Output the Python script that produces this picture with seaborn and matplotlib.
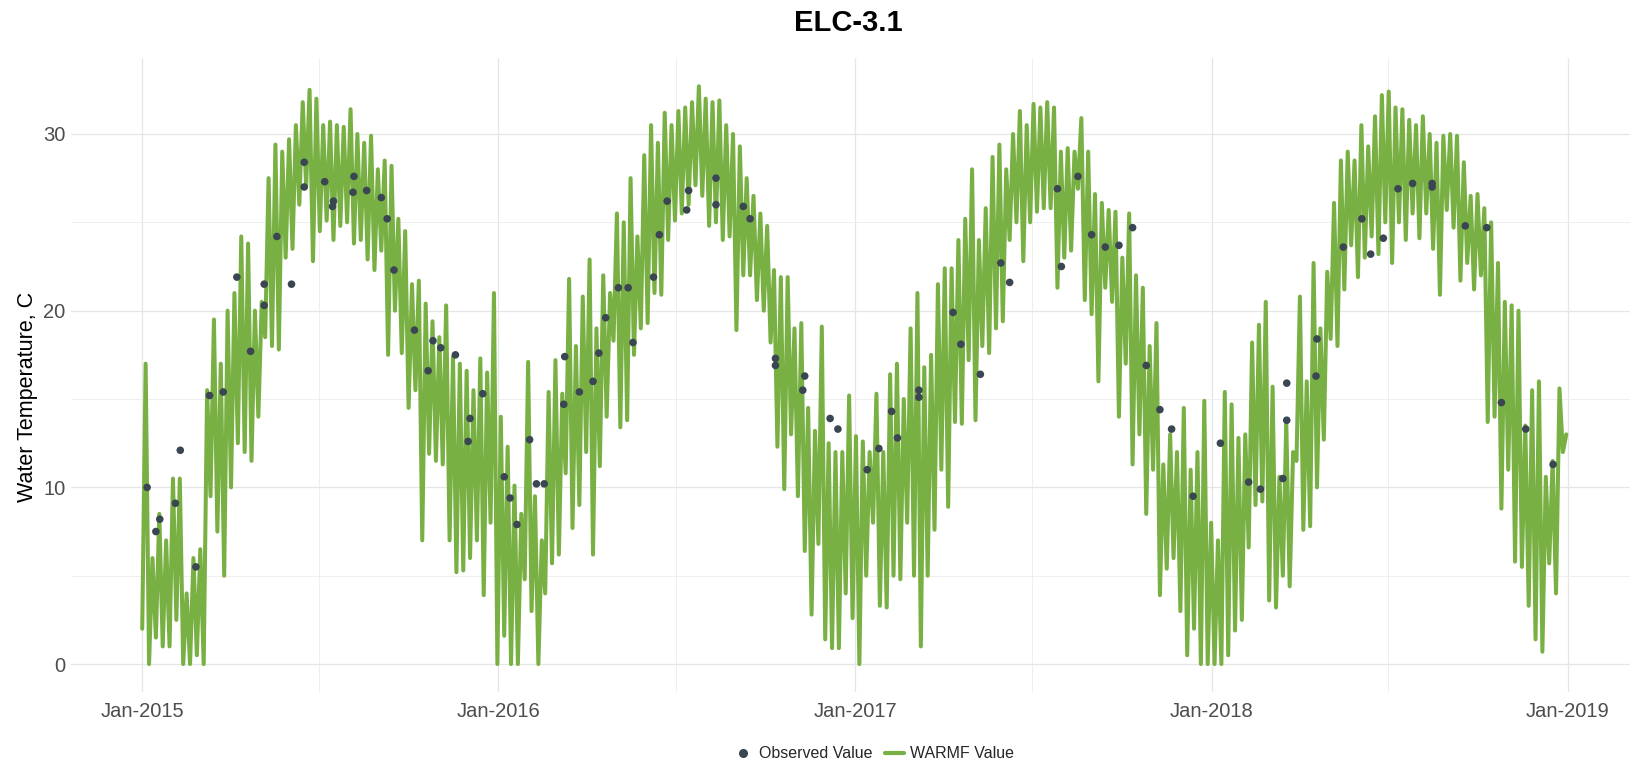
import matplotlib
matplotlib.use("Agg")
import matplotlib.pyplot as plt
import matplotlib.dates as mdates
from matplotlib.lines import Line2D
import pandas as pd
import seaborn as sns

# weekly envelope of the WARMF daily series (deg C)
warmf_low = [
    2, 0, 1.5, 1, 1, 2.5, 0, 0, 0.5, 0,
    9.5, 7.5, 5, 10, 12.5, 12, 11.5, 14, 18.5, 18,
    17.8, 23, 23.5, 26, 27, 22.8, 24.5, 25.1, 24, 24.8,
    25, 23.8, 24, 22.9, 22.3, 23.4, 17.5, 20, 17.6, 14.5,
    15.5, 7, 11.9, 11.5, 11.3, 7, 5.2, 5.3, 6, 7,
    3.9, 8, 0,
    1.6, 0, 0, 4.8, 3, 0, 4, 5.7, 6.2, 10.8,
    7.7, 9, 12, 6.2, 11.2, 14, 18.3, 13.4, 13.8, 17.5,
    19, 19.3, 21, 20.9, 24, 25.1, 25.5, 26, 27.1, 26.5,
    24.8, 25, 24, 24.2, 18.9, 22, 22, 20.6, 20, 18.2,
    12.3, 9.9, 13, 9.5, 6.4, 2.8, 6.8, 1.4, 0.9, 0.9,
    4, 2.6,
    0, 5, 8, 3.3, 3.2, 5, 4.8, 8, 5, 1,
    5, 7.6, 11, 8.9, 13.7, 13.6, 17.2, 13.8, 18, 17.6,
    19, 19.4, 24, 25, 22.8, 25, 25.6, 25.8, 25.8, 21.3,
    23, 23.4, 26.9, 20.6, 19.8, 16, 21.3, 20.5, 14, 17,
    11.3, 13, 8.5, 11, 3.9, 5.4, 6, 3, 0.5, 2,
    0, 0,
    0, 0, 0.5, 1.9, 2.5, 6.6, 9, 9.2, 3.6, 3.2,
    5, 4.4, 11.5, 7.6, 7.8, 10, 12.7, 18.4, 18, 21.2,
    23.7, 21.9, 23, 24.2, 23.2, 25, 22.7, 25, 24, 25.5,
    24.1, 25.5, 23.5, 20.9, 25.7, 24.7, 21.7, 22.7, 21.2, 22,
    13.7, 14, 8.8, 11, 5.8, 5.5, 3.3, 1.4, 0.7, 5.7,
    4, 12,
]
warmf_high = [
    17, 6, 8.5, 7, 10.5, 10.5, 4, 6, 6.5, 15.5,
    19.5, 17, 20, 21, 24.2, 23.8, 20, 20.5, 27.5, 29.4,
    29, 29.7, 30.5, 31.8, 32.5, 32, 30.5, 30.7, 30.5, 30.4,
    31.4, 30, 29.5, 29.9, 28, 28.5, 28.2, 25.2, 24.5, 21.5,
    21.7, 20.4, 19.4, 18.5, 20.3, 17.4, 17, 16.6, 15.5, 17.3,
    16.5, 21, 14,
    12.3, 10.1, 8.5, 17.1, 9.5, 7, 15.4, 17.2, 15.3, 21.8,
    18, 20.8, 22.9, 19, 22, 21, 25.5, 25, 27.5, 24.2,
    28.8, 30.5, 29.5, 31.2, 30.5, 31.3, 31.5, 31.8, 32.7, 32,
    31.8, 31.9, 30.5, 30, 29.3, 27.5, 26.5, 25.5, 24.8, 22.3,
    21.9, 21.9, 19, 19.3, 14.5, 13.2, 19.1, 12.5, 12, 12,
    15.2, 12.9,
    12.6, 12, 15.3, 12, 16.4, 17, 15, 19, 21, 16.8,
    17.5, 21.5, 22.4, 22.4, 24, 25.2, 28, 24, 25.8, 28.7,
    29.4, 28, 30, 31.3, 30.5, 31.7, 31.5, 31.8, 31.5, 29,
    29.2, 29, 30.9, 29, 26.6, 26.1, 25.7, 25.6, 23, 25.5,
    22, 21.3, 18, 19.3, 11.3, 13, 12, 14.5, 11, 12,
    14.9, 8,
    7, 15.4, 14.7, 12.8, 13, 18.2, 19.2, 20.5, 15.7, 10.6,
    13.7, 12, 20.8, 16, 22.7, 19, 22.2, 26.1, 28.5, 29,
    28.5, 30.5, 29.3, 31, 32.2, 32.4, 31.5, 31.4, 30.8, 30.5,
    31, 30, 29.5, 29.9, 30, 29.9, 28.4, 26.5, 26.6, 25.8,
    25, 22.7, 20.5, 20.3, 20, 13.5, 15.5, 16, 10.6, 11.5,
    15.6, 13,
]

obs_dates = [
    "2015-01-06", "2015-01-15", "2015-01-19", "2015-02-04", "2015-02-09",
    "2015-02-25", "2015-03-11", "2015-03-25", "2015-04-08", "2015-04-22",
    "2015-05-06", "2015-05-06", "2015-05-19", "2015-06-03", "2015-06-16",
    "2015-06-16", "2015-07-07", "2015-07-15", "2015-07-16", "2015-08-05",
    "2015-08-06", "2015-08-19", "2015-09-03", "2015-09-09", "2015-09-16",
    "2015-10-07", "2015-10-21", "2015-10-26", "2015-11-03", "2015-11-18",
    "2015-12-01", "2015-12-03", "2015-12-16",
    "2016-01-07", "2016-01-13", "2016-01-20", "2016-02-02", "2016-02-09",
    "2016-02-17", "2016-03-08", "2016-03-09", "2016-03-24", "2016-04-07",
    "2016-04-13", "2016-04-20", "2016-05-03", "2016-05-13", "2016-05-18",
    "2016-06-08", "2016-06-14", "2016-06-22", "2016-07-12", "2016-07-14",
    "2016-08-11", "2016-08-11", "2016-09-08", "2016-09-15", "2016-10-11",
    "2016-10-11", "2016-11-08", "2016-11-10", "2016-12-06", "2016-12-14",
    "2017-01-13", "2017-01-25", "2017-02-07", "2017-02-13", "2017-03-07",
    "2017-03-07", "2017-04-11", "2017-04-19", "2017-05-09", "2017-05-30",
    "2017-06-08", "2017-07-27", "2017-07-31", "2017-08-17", "2017-08-31",
    "2017-09-14", "2017-09-28", "2017-10-12", "2017-10-26", "2017-11-09",
    "2017-11-21", "2017-12-13",
    "2018-01-10", "2018-02-08", "2018-02-20", "2018-03-15", "2018-03-19",
    "2018-03-19", "2018-04-18", "2018-04-19", "2018-05-16", "2018-06-04",
    "2018-06-13", "2018-06-26", "2018-07-11", "2018-07-26", "2018-08-15",
    "2018-08-15", "2018-09-18", "2018-10-10", "2018-10-25", "2018-11-19",
    "2018-12-17",
]
obs_values = [
    10.0, 7.5, 8.2, 9.1, 12.1, 5.5, 15.2, 15.4, 21.9, 17.7,
    20.3, 21.5, 24.2, 21.5, 28.4, 27.0, 27.3, 25.9, 26.2, 26.7,
    27.6, 26.8, 26.4, 25.2, 22.3, 18.9, 16.6, 18.3, 17.9, 17.5,
    12.6, 13.9, 15.3,
    10.6, 9.4, 7.9, 12.7, 10.2, 10.2, 14.7, 17.4, 15.4, 16.0,
    17.6, 19.6, 21.3, 21.3, 18.2, 21.9, 24.3, 26.2, 25.7, 26.8,
    27.5, 26.0, 25.9, 25.2, 17.3, 16.9, 15.5, 16.3, 13.9, 13.3,
    11.0, 12.2, 14.3, 12.8, 15.5, 15.1, 19.9, 18.1, 16.4, 22.7,
    21.6, 26.9, 22.5, 27.6, 24.3, 23.6, 23.7, 24.7, 16.9, 14.4,
    13.3, 9.5,
    12.5, 10.3, 9.9, 10.5, 13.8, 15.9, 16.3, 18.4, 23.6, 25.2,
    23.2, 24.1, 26.9, 27.2, 27.2, 27.0, 24.8, 24.7, 14.8, 13.3,
    11.3,
]

GREEN = "#78B043"
DOT = "#3B4653"


def main():
    sns.set_theme(style="whitegrid")
    plt.rcParams["font.family"] = ["Liberation Sans", "DejaVu Sans"]

    # interleave the weekly low / high so the line zigzags like the daily series
    start = pd.Timestamp("2015-01-01")
    times, temps = [], []
    for k, (lo, hi) in enumerate(zip(warmf_low, warmf_high)):
        times += [start + pd.Timedelta(days=7 * k),
                  start + pd.Timedelta(days=7 * k, hours=84)]
        temps += [lo, hi]
    df_model = pd.DataFrame({"date": times, "temp": temps})
    df_obs = pd.DataFrame({"date": pd.to_datetime(obs_dates), "temp": obs_values})

    fig = plt.figure(figsize=(16.3, 7.63), dpi=100)
    ax = fig.add_axes([71 / 1630, 1 - 692 / 763, 1567 / 1630, 634 / 763])

    sns.lineplot(data=df_model, x="date", y="temp", ax=ax, color=GREEN,
                 linewidth=2.9, estimator=None, sort=False)
    sns.scatterplot(data=df_obs, x="date", y="temp", ax=ax, color=DOT,
                    s=30, edgecolor="none", zorder=3)

    ax.set_xlim(start - pd.Timedelta(days=73),
                pd.Timestamp("2018-12-31") + pd.Timedelta(days=73))
    ax.set_ylim(-1.58, 34.3)
    ax.set_yticks([0, 10, 20, 30])
    ax.set_yticks([5, 15, 25], minor=True)
    ax.xaxis.set_major_locator(mdates.YearLocator())
    ax.xaxis.set_minor_locator(mdates.MonthLocator(bymonth=7))
    ax.xaxis.set_major_formatter(mdates.DateFormatter("%b-%Y"))

    ax.set_facecolor("white")
    for s in ax.spines.values():
        s.set_visible(False)
    ax.grid(which="major", color="#E6E6E6", linewidth=0.9)
    ax.grid(which="minor", color="#EDEDED", linewidth=0.6)
    ax.set_axisbelow(True)
    ax.tick_params(which="both", length=0)
    ax.tick_params(axis="x", labelsize=14.5, labelcolor="#4D4D4D", pad=7)
    ax.tick_params(axis="y", labelsize=14.5, labelcolor="#4D4D4D", pad=4)
    ax.set_xlabel("")
    ax.set_ylabel("")

    fig.text(28 / 1630, 1 - 397 / 763, "Water Temperature, C", rotation=90,
             ha="center", va="center", fontsize=15.5, color="black")
    fig.text(848 / 1630, 1 - 23 / 763, "ELC-3.1", ha="center", va="center",
             fontsize=21, fontweight="bold", color="black")

    handles = [
        Line2D([], [], marker="o", linestyle="none", color=DOT, markersize=5.5),
        Line2D([], [], color=GREEN, linewidth=3),
    ]
    fig.legend(handles, ["Observed Value", "WARMF Value"], loc="center",
               bbox_to_anchor=(0.536, 1 - 754 / 763), ncol=2, frameon=False,
               fontsize=11.5, handlelength=1.2, columnspacing=0.8,
               handletextpad=0.4)

    fig.savefig("out.png", dpi=100, facecolor="white")
    plt.close(fig)


if __name__ == "__main__":
    main()
